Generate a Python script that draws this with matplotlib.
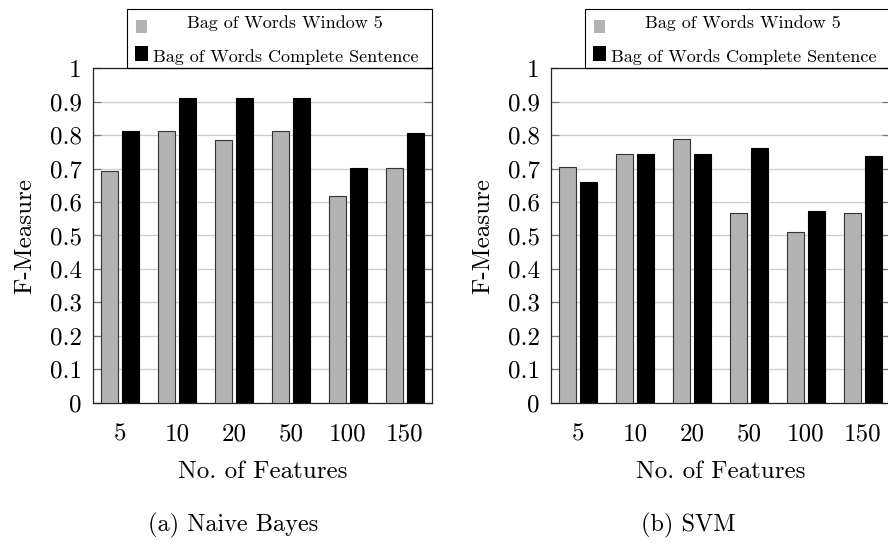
import numpy as np
import matplotlib.pyplot as plt
from matplotlib.patches import Rectangle

plt.rcParams['font.family'] = 'cmr10'
plt.rcParams['mathtext.fontset'] = 'cm'
plt.rcParams['axes.unicode_minus'] = False

# F-measure per number of features
features = ["5", "10", "20", "50", "100", "150"]
nb_window5 = [0.692, 0.814, 0.787, 0.814, 0.618, 0.703]
nb_sentence = [0.814, 0.911, 0.911, 0.911, 0.703, 0.807]
svm_window5 = [0.704, 0.743, 0.789, 0.566, 0.511, 0.566]
svm_sentence = [0.661, 0.743, 0.743, 0.762, 0.573, 0.738]

series_labels = ["Bag of Words Window 5", "Bag of Words Complete Sentence"]
panel_captions = ["(a) Naive Bayes", "(b) SVM"]
yticks = np.round(np.arange(0, 1.01, 0.1), 1)

GRAY = "#b3b3b3"
W, H = 888, 544


def px_axes(x0, y0, w, h):
    # pixel box (from top-left) -> figure fraction
    return [x0 / W, 1 - (y0 + h) / H, w / W, h / H]


def draw_legend(ax):
    ax.add_patch(Rectangle((0.10, 1.0), 0.90, 0.178, transform=ax.transAxes,
                           fill=False, edgecolor="black", lw=0.8, clip_on=False, zorder=5))
    ax.add_patch(Rectangle((0.127, 1.106), 0.032, 0.039, transform=ax.transAxes,
                           facecolor=GRAY, edgecolor="none", clip_on=False))
    ax.add_patch(Rectangle((0.125, 1.022), 0.037, 0.045, transform=ax.transAxes,
                           facecolor="black", edgecolor="none", clip_on=False))
    ax.text(0.565, 1.120, series_labels[0], transform=ax.transAxes,
            ha="center", va="baseline", fontsize=13)
    ax.text(0.178, 1.019, series_labels[1], transform=ax.transAxes,
            ha="left", va="baseline", fontsize=13)


def draw_panel(ax, window5, sentence):
    x = np.arange(len(features))
    ax.bar(x - 0.19, window5, width=0.293, color=GRAY, edgecolor="#333333", lw=0.8, zorder=3)
    ax.bar(x + 0.19, sentence, width=0.293, color="black", edgecolor="black", lw=0.8, zorder=3)

    ax.set_xlim(-0.474, len(features) - 1 + 0.474)
    ax.set_ylim(0, 1)
    ax.set_xticks(x)
    ax.set_xticklabels(features)
    ax.set_yticks(yticks)
    ax.set_yticklabels([f"{v:g}" for v in yticks])

    ax.yaxis.grid(True, color="#cccccc", lw=0.9)
    ax.set_axisbelow(True)
    ax.tick_params(axis="y", left=True, right=True, direction="in", length=6,
                   width=0.9, color="#777777", labelsize=18, pad=8)
    ax.tick_params(axis="x", length=0, labelsize=18, pad=15)
    for s in ax.spines.values():
        s.set_color("#222222")
        s.set_linewidth(0.9)

    ax.set_xlabel("No. of Features", fontsize=18, labelpad=11)
    ax.set_ylabel("F-Measure", fontsize=18, labelpad=10)
    draw_legend(ax)


fig = plt.figure(figsize=(W / 100, H / 100), dpi=100)
ax1 = fig.add_axes(px_axes(93, 68.5, 339, 334))
ax2 = fig.add_axes(px_axes(551, 68.5, 339, 334))

draw_panel(ax1, nb_window5, nb_sentence)
draw_panel(ax2, svm_window5, svm_sentence)

fig.text(233 / W, 1 - 531.5 / H, panel_captions[0], ha="center", va="baseline", fontsize=17.5)
fig.text(688 / W, 1 - 531.5 / H, panel_captions[1], ha="center", va="baseline", fontsize=17.5)

fig.savefig("out.png", dpi=100)
